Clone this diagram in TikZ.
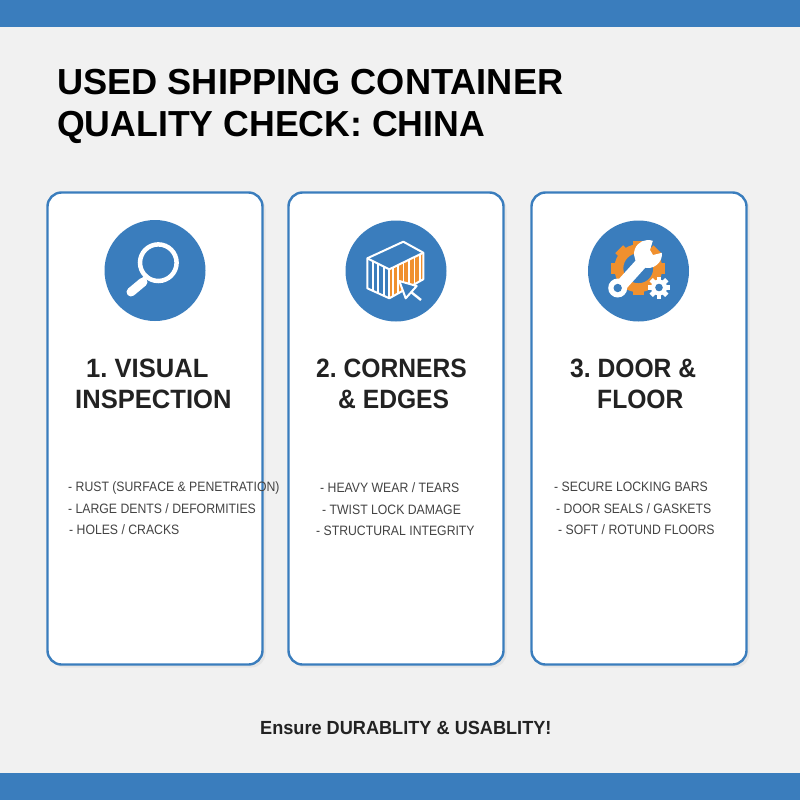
\documentclass[tikz,border=0pt]{standalone}
\usepackage{fontspec}
\setmainfont{Liberation Sans}
\newfontfamily\headfont[FakeStretch=0.965]{Liberation Sans}
\newfontfamily\headslim[FakeStretch=0.93]{Liberation Sans}
\newfontfamily\titleslim[FakeStretch=0.985]{Liberation Sans}
\newfontfamily\itemfont[FakeStretch=0.9]{Liberation Sans}
\newfontfamily\footfont[FakeStretch=0.955]{Liberation Sans}
\usetikzlibrary{shadows}
\definecolor{barblue}{HTML}{3A7DBD}
\definecolor{pagegrey}{HTML}{F1F1F1}
\definecolor{iconorange}{HTML}{F0902E}
\definecolor{inkdark}{HTML}{222222}
\tikzset{
card/.style={draw=barblue,line width=2.4pt,fill=white,rounded corners=14pt,minimum width=215pt,minimum height=472pt,inner sep=0pt,drop shadow={opacity=0.1,shadow xshift=3pt,shadow yshift=-3pt}},
badge/.style={fill=barblue,circle,minimum size=101pt,inner sep=0pt},
titleline/.style={anchor=west,inner sep=0pt,text height=26pt,text depth=0pt,text=black,font=\fontsize{36.2}{40}\selectfont\bfseries},
headline/.style={anchor=west,inner sep=0pt,text height=18.4pt,text depth=0pt,text=inkdark,font=\fontsize{26.5}{30}\headfont\bfseries},
headslimline/.style={headline,font=\fontsize{26.5}{30}\headslim\bfseries},
itemline/.style={anchor=west,inner sep=0pt,text height=9.8pt,text depth=0pt,text=inkdark!85,font=\fontsize{13.6}{16}\itemfont},
footline/.style={anchor=west,inner sep=0pt,text height=13.7pt,text depth=0pt,text=inkdark,font=\fontsize{19}{22}\footfont\bfseries},
iconline/.style={draw=white,line width=2pt,line join=round}
}
\begin{document}
\frenchspacing
\begin{tikzpicture}[x=1pt,y=1pt]
\useasboundingbox (0,-800) rectangle (800,0);
\fill [pagegrey] (0,-800) rectangle (800,0);
\fill [barblue] (0,-27) rectangle (800,0);
\fill [barblue] (0,-800) rectangle (800,-773);
\node [titleline] (title1) at (57,-81) {USED SHIPPING CONTAINER};
\node [titleline,font=\fontsize{36.2}{40}\titleslim\bfseries] (title2) at (57,-123) {QUALITY CHECK: CHINA};
\node [card] (card1) at (155,-428.5) {};
\node [card] (card2) at (396,-428.5) {};
\node [card] (card3) at (639,-428.5) {};
\node [badge] (badge1) at (155,-270.5) {};
\node [badge] (badge2) at (396,-271) {};
\node [badge] (badge3) at (638.5,-271) {};
% magnifier
\draw [white,line width=4.5pt] (158.3,-262.7) circle (18.3);
\draw [white,line width=4pt] (148,-275) -- (142,-281);
\draw [white,line width=9pt,line cap=round] (143,-282) -- (131,-292);
% container
\fill [iconorange] (389.3,-269.3) -- (423.3,-252.7) -- (423.3,-279.3) -- (389.3,-298.3) -- cycle;
\foreach \t in {0.1,0.26,0.42,0.58,0.74,0.9}
  \draw [white,line width=1.7pt] ({389.3+\t*34},{-269.3+\t*16.6}) -- ({389.3+\t*34},{-298.3+\t*19});
\foreach \t in {0.25,0.5,0.75}
  \draw [white,line width=1.7pt] ({367.3+\t*22},{-258.3-\t*11}) -- ({367.3+\t*22},{-288.3-\t*10});
\draw [iconline] (367.3,-258.3) -- (403.3,-241.7) -- (423.3,-252.7) -- (423.3,-279.3) -- (389.3,-298.3) -- (367.3,-288.3) -- cycle;
\draw [iconline] (367.3,-258.3) -- (389.3,-269.3) -- (423.3,-252.7);
\draw [iconline] (389.3,-269.3) -- (389.3,-298.3);
\draw [white,line width=2.4pt] (411,-292) -- (421,-300);
\draw [fill=barblue,iconline] (399.3,-281) -- (405.7,-298.3) -- (416.7,-286) -- cycle;
% gear and wrench
\foreach \a in {0,45,...,315}
  \fill [iconorange,rotate around={\a:(638.3,-268.3)}] (632.8,-250) rectangle (643.8,-241.3);
\draw [iconorange,line width=9pt] (638.3,-268.3) circle (19.5);
\draw [white,line width=12pt] (622,-284.5) -- (646,-258);
\fill [white] (648,-254) ++(70:14) arc [start angle=70,end angle=365,radius=14] -- (653,-255) -- (650,-250) -- cycle;
\fill [white] (617.7,-288) circle (9.5);
\fill [barblue] (617.7,-288) circle (4.2);
\foreach \a in {0,45,...,315}
  \fill [white,rotate around={\a:(659,-287.5)}] (656.6,-287.5) rectangle (661.4,-276.5);
\fill [white] (659,-287.5) circle (8);
\fill [barblue] (659,-287.5) circle (3.8);
% headings
\node [headline] (head1a) at (86,-368) {1. VISUAL};
\node [headline] (head1b) at (75,-399) {INSPECTION};
\node [headslimline] (head2a) at (316,-368) {2. CORNERS};
\node [headslimline] (head2b) at (338,-399) {\&~EDGES};
\node [headslimline] (head3a) at (570,-368) {3. DOOR \&};
\node [headslimline] (head3b) at (597,-399) {FLOOR};
% lists
\node [itemline] (item1a) at (68,-487) {- RUST (SURFACE \& PENETRATION)};
\node [itemline] (item1b) at (68,-509) {- LARGE DENTS / DEFORMITIES};
\node [itemline] (item1c) at (69,-530) {- HOLES / CRACKS};
\node [itemline] (item2a) at (320,-487.5) {- HEAVY WEAR / TEARS};
\node [itemline] (item2b) at (322,-509.5) {- TWIST LOCK DAMAGE};
\node [itemline] (item2c) at (316,-531) {- STRUCTURAL INTEGRITY};
\node [itemline] (item3a) at (554,-487) {- SECURE LOCKING BARS};
\node [itemline] (item3b) at (556,-508.5) {- DOOR SEALS / GASKETS};
\node [itemline] (item3c) at (558,-530) {- SOFT / ROTUND FLOORS};
\node [footline] (footer) at (260,-728) {Ensure DURABLITY \& USABLITY!};
\end{tikzpicture}
\end{document}
